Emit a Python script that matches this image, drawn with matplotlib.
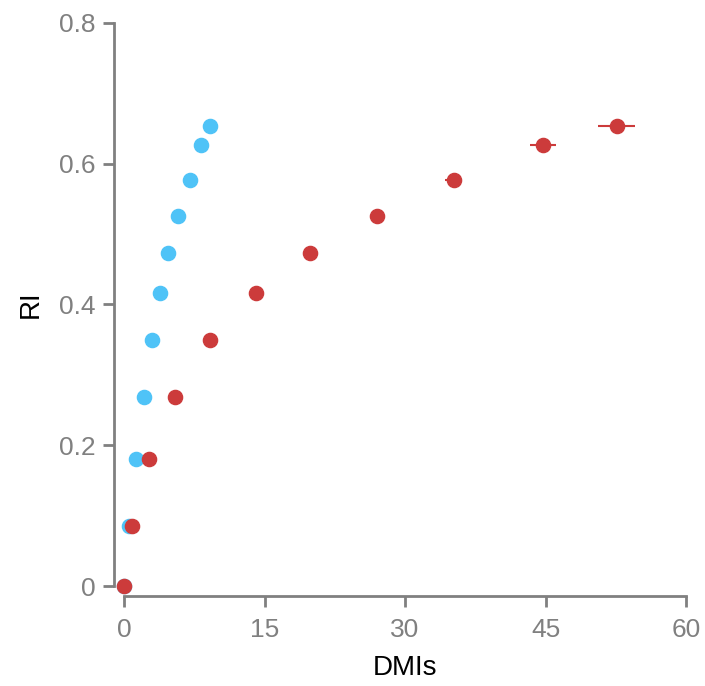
import numpy as np
import matplotlib.pyplot as plt

# RI vs DMIs, two series
ri = [0, 0.085, 0.180, 0.269, 0.350, 0.416, 0.473, 0.526, 0.577, 0.626, 0.654]
dmi_blue = [0, 0.53, 1.28, 2.14, 2.99, 3.84, 4.70, 5.76, 7.05, 8.22, 9.18]
dmi_red = [0, 0.85, 2.67, 5.45, 9.18, 14.09, 19.86, 27.0, 35.2, 44.7, 52.6]
xerr_blue = [0, 0.05, 0.05, 0.08, 0.1, 0.12, 0.12, 0.15, 0.15, 0.2, 0.2]
xerr_red = [0, 0.05, 0.1, 0.2, 0.3, 0.4, 0.5, 0.5, 0.9, 1.4, 2.0]
yerr = [0, 0.003, 0.004, 0.004, 0.005, 0.005, 0.005, 0.005, 0.005, 0.004, 0.004]

blue = '#4FC3F7'
red = '#CC3B3B'
grey = '#808080'

plt.rcParams['font.family'] = ['Liberation Sans', 'DejaVu Sans']
fig = plt.figure(figsize=(7.05, 6.86), dpi=100)
ax = fig.add_axes([124/705, 1-586/686, 562/705, 563/686])

ax.errorbar(dmi_blue, ri, xerr=xerr_blue, yerr=yerr, fmt='o', color=blue,
            ms=10.2, elinewidth=1.5, capsize=0, clip_on=False, zorder=3)
ax.errorbar(dmi_red, ri, xerr=xerr_red, yerr=yerr, fmt='o', color=red,
            ms=10.2, elinewidth=1.5, capsize=0, clip_on=False, zorder=4)

ax.set_xlim(0, 60)
ax.set_ylim(0, 0.8)
ax.set_xticks([0, 15, 30, 45, 60])
ax.set_yticks([0, 0.2, 0.4, 0.6, 0.8])
ax.set_yticklabels(['0', '0.2', '0.4', '0.6', '0.8'])

for s in ['top', 'right']:
    ax.spines[s].set_visible(False)
for s in ['left', 'bottom']:
    ax.spines[s].set_position(('outward', 7.2))
    ax.spines[s].set_color(grey)
    ax.spines[s].set_linewidth(2)
ax.tick_params(colors=grey, labelsize=19, width=2, length=8, pad=5)
ax.tick_params(axis='x', pad=8)
ax.set_xlabel('DMIs', fontsize=20, labelpad=9)
ax.set_ylabel('RI', fontsize=20, labelpad=11)

fig.savefig('out.png', dpi=100)
